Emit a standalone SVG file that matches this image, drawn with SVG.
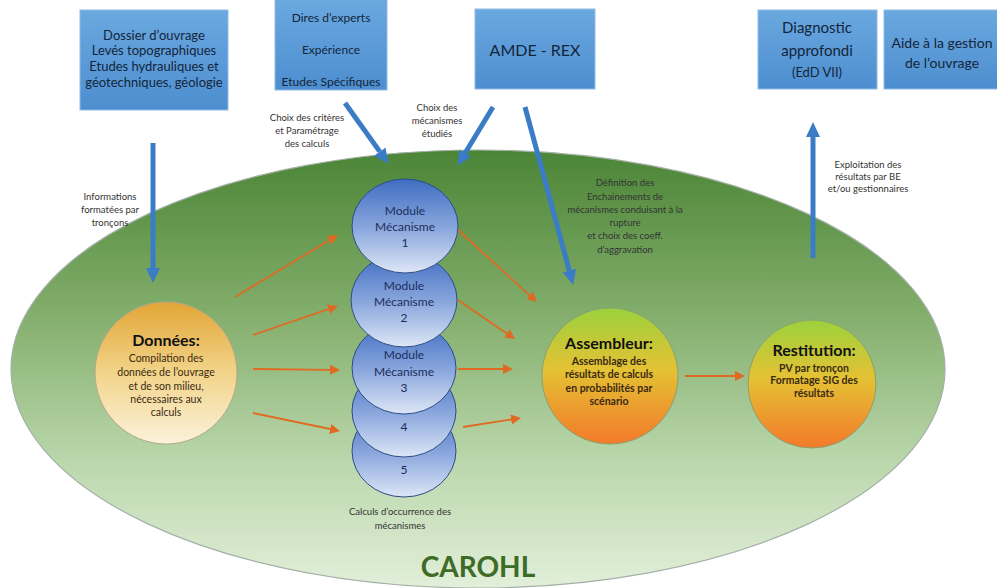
<svg xmlns="http://www.w3.org/2000/svg" width="997" height="588" viewBox="0 0 997 588">
<defs>
<linearGradient id="gEll" x1="0" y1="0" x2="0" y2="1">
<stop offset="0" stop-color="#4b8536"/>
<stop offset="0.35" stop-color="#7fab68"/>
<stop offset="0.7" stop-color="#b9d6aa"/>
<stop offset="1" stop-color="#e2efda"/>
</linearGradient>
<linearGradient id="gBox" x1="0" y1="0" x2="0" y2="1">
<stop offset="0" stop-color="#6aa8df"/>
<stop offset="1" stop-color="#4d8ed0"/>
</linearGradient>
<linearGradient id="gData" x1="0" y1="0" x2="0" y2="1">
<stop offset="0" stop-color="#e2a535"/>
<stop offset="0.5" stop-color="#f2d48a"/>
<stop offset="1" stop-color="#fcf2da"/>
</linearGradient>
<linearGradient id="gAsm" x1="0" y1="0" x2="0" y2="1">
<stop offset="0" stop-color="#9bd13c"/>
<stop offset="0.45" stop-color="#e4c234"/>
<stop offset="1" stop-color="#f37a2a"/>
</linearGradient>
<linearGradient id="gMod" x1="0" y1="0" x2="0" y2="1">
<stop offset="0" stop-color="#3f6dc2"/>
<stop offset="0.55" stop-color="#8eaade"/>
<stop offset="1" stop-color="#dde6f6"/>
</linearGradient>
<marker id="mBlue" markerUnits="userSpaceOnUse" markerWidth="16" markerHeight="16" refX="0" refY="8" orient="auto">
<path d="M0,1 L15,8 L0,15 z" fill="#3a7cc6"/>
</marker>
<marker id="mOr" markerUnits="userSpaceOnUse" markerWidth="12" markerHeight="12" refX="0" refY="5" orient="auto">
<path d="M0,0 L10,5 L0,10 z" fill="#e06a22"/>
</marker>
<style>
.box{fill:url(#gBox);stroke:#8fbbe6;stroke-width:1}
.bt{font-family:Lato,"Liberation Sans",sans-serif;fill:#14253a;text-anchor:middle}
.lbl{font-family:Lato,"Liberation Sans",sans-serif;fill:#333;font-size:9.5px;text-anchor:middle}
.ct{font-family:Lato,"Liberation Sans",sans-serif;fill:#3a2a12;font-size:10.5px;text-anchor:middle}
.ch{font-family:Lato,"Liberation Sans",sans-serif;fill:#111;font-size:16px;font-weight:bold;text-anchor:middle}
.mt{font-family:Lato,"Liberation Sans",sans-serif;fill:#1c2d5c;font-size:12px;text-anchor:middle}
.mod{fill:url(#gMod);stroke:#2d4c86;stroke-width:1}
.blue{stroke:#3a7cc6;stroke-width:5;fill:none;marker-end:url(#mBlue)}
.or{stroke:#e06a22;stroke-width:1.8;fill:none;marker-end:url(#mOr)}
</style>
</defs>
<rect width="997" height="588" fill="#ffffff"/>
<g id="carohl">
<ellipse cx="478" cy="369" rx="467" ry="219" fill="url(#gEll)" stroke="#a3b0a6" stroke-width="1.2"/>
<text x="478" y="577" font-family="Lato,'Liberation Sans',sans-serif" font-size="28" font-weight="bold" fill="#3e6b25" text-anchor="middle">CAROHL</text>
</g>
<g id="connectors">
<line class="blue" x1="153" y1="143" x2="153" y2="268"/>
<line class="blue" x1="345" y1="103" x2="379.8" y2="151.6"/>
<line class="blue" x1="493" y1="107" x2="465.2" y2="153"/>
<line class="blue" x1="525" y1="107" x2="569.3" y2="270.5"/>
<line class="blue" x1="813" y1="258" x2="813" y2="137"/>
<line class="or" x1="235" y1="297" x2="329.4" y2="240.2"/>
<line class="or" x1="253" y1="335" x2="328.5" y2="309.2"/>
<line class="or" x1="253" y1="369" x2="330" y2="369.8"/>
<line class="or" x1="253" y1="413" x2="330.2" y2="429"/>
<line class="or" x1="458" y1="230" x2="529.6" y2="295.3"/>
<line class="or" x1="458" y1="300" x2="506.8" y2="333.4"/>
<line class="or" x1="458" y1="369" x2="503" y2="369"/>
<line class="or" x1="463" y1="427" x2="511.1" y2="419.5"/>
<line class="or" x1="685" y1="376" x2="735" y2="376"/>
<text class="lbl"><tspan x="110" y="200">Informations</tspan><tspan x="110" y="213">formatées par</tspan><tspan x="110" y="226">tronçons</tspan></text>
<text class="lbl"><tspan x="307" y="121">Choix des critères</tspan><tspan x="307" y="134">et Paramétrage</tspan><tspan x="307" y="147">des calculs</tspan></text>
<text class="lbl"><tspan x="437" y="111">Choix des</tspan><tspan x="437" y="124">mécanismes</tspan><tspan x="437" y="137">étudiés</tspan></text>
<text class="lbl"><tspan x="625" y="186">Définition des</tspan><tspan x="625" y="200">Enchainements de</tspan><tspan x="625" y="213">mécanismes conduisant à la</tspan><tspan x="625" y="226">rupture</tspan><tspan x="625" y="239">et choix des coeff.</tspan><tspan x="625" y="253">d’aggravation</tspan></text>
<text class="lbl"><tspan x="868" y="168">Exploitation des</tspan><tspan x="868" y="180">résultats par BE</tspan><tspan x="868" y="192">et/ou gestionnaires</tspan></text>
<text class="lbl"><tspan x="400" y="515">Calculs d’occurrence des</tspan><tspan x="400" y="529">mécanismes</tspan></text>
</g>
<g id="box-dossier">
<rect class="box" x="80" y="10" width="148" height="100"/>
<text class="bt" font-size="13"><tspan x="154" y="40">Dossier d’ouvrage</tspan><tspan x="154" y="55">Levés topographiques</tspan><tspan x="154" y="71">Etudes hydrauliques et</tspan><tspan x="154" y="87">géotechniques, géologie</tspan></text>
</g>
<g id="box-experts">
<rect class="box" x="275" y="-1" width="112" height="91"/>
<text class="bt" font-size="12"><tspan x="331" y="22">Dires d’experts</tspan><tspan x="331" y="54">Expérience</tspan><tspan x="331" y="86">Etudes Spécifiques</tspan></text>
</g>
<g id="box-amde">
<rect class="box" x="475" y="9" width="120" height="80"/>
<text class="bt" font-size="16" x="535" y="56">AMDE - REX</text>
</g>
<g id="box-diagnostic">
<rect class="box" x="758" y="10" width="119" height="79"/>
<text class="bt" font-size="15"><tspan x="817" y="33">Diagnostic</tspan><tspan x="817" y="56">approfondi</tspan><tspan x="817" y="77" font-size="13">(EdD VII)</tspan></text>
</g>
<g id="box-aide">
<rect class="box" x="884" y="10" width="125" height="79"/>
<text class="bt" font-size="14"><tspan x="942" y="48">Aide à la gestion</tspan><tspan x="942" y="68">de l’ouvrage</tspan></text>
</g>
<g id="donnees">
<circle cx="166" cy="373" r="71" fill="url(#gData)" stroke="#b3a889" stroke-width="1"/>
<text class="ch" x="166" y="346">Données:</text>
<text class="ct"><tspan x="166" y="362">Compilation des</tspan><tspan x="166" y="376">données de l’ouvrage</tspan><tspan x="166" y="390">et de son milieu,</tspan><tspan x="166" y="403">nécessaires aux</tspan><tspan x="166" y="416">calculs</tspan></text>
</g>
<g id="module5">
<ellipse class="mod" cx="404" cy="451" rx="52" ry="46"/>
<text class="mt" x="404" y="474">5</text>
</g>
<g id="module4">
<ellipse class="mod" cx="404" cy="411" rx="52" ry="46"/>
<text class="mt" x="404" y="431">4</text>
</g>
<g id="module3">
<ellipse class="mod" cx="404" cy="368" rx="52" ry="46"/>
<text class="mt"><tspan x="404" y="359">Module</tspan><tspan x="404" y="376">Mécanisme</tspan><tspan x="404" y="392">3</tspan></text>
</g>
<g id="module2">
<ellipse class="mod" cx="404" cy="300" rx="53" ry="47"/>
<text class="mt"><tspan x="404" y="290">Module</tspan><tspan x="404" y="306">Mécanisme</tspan><tspan x="404" y="322">2</tspan></text>
</g>
<g id="module1">
<ellipse class="mod" cx="405" cy="226" rx="53" ry="47"/>
<text class="mt"><tspan x="405" y="215">Module</tspan><tspan x="405" y="231">Mécanisme</tspan><tspan x="405" y="247">1</tspan></text>
</g>
<g id="assembleur">
<circle cx="610" cy="376" r="68" fill="url(#gAsm)" stroke="#8aa070" stroke-width="1"/>
<text class="ch" x="609" y="349">Assembleur:</text>
<text class="ct" font-weight="bold"><tspan x="609" y="365">Assemblage des</tspan><tspan x="609" y="378">résultats de calculs</tspan><tspan x="609" y="392">en probabilités par</tspan><tspan x="609" y="405">scénario</tspan></text>
</g>
<g id="restitution">
<circle cx="812" cy="384" r="64" fill="url(#gAsm)" stroke="#8aa070" stroke-width="1"/>
<text class="ch" x="814" y="356">Restitution:</text>
<text class="ct" font-weight="bold"><tspan x="814" y="372">PV par tronçon</tspan><tspan x="814" y="384">Formatage SIG des</tspan><tspan x="814" y="397">résultats</tspan></text>
</g>
</svg>
